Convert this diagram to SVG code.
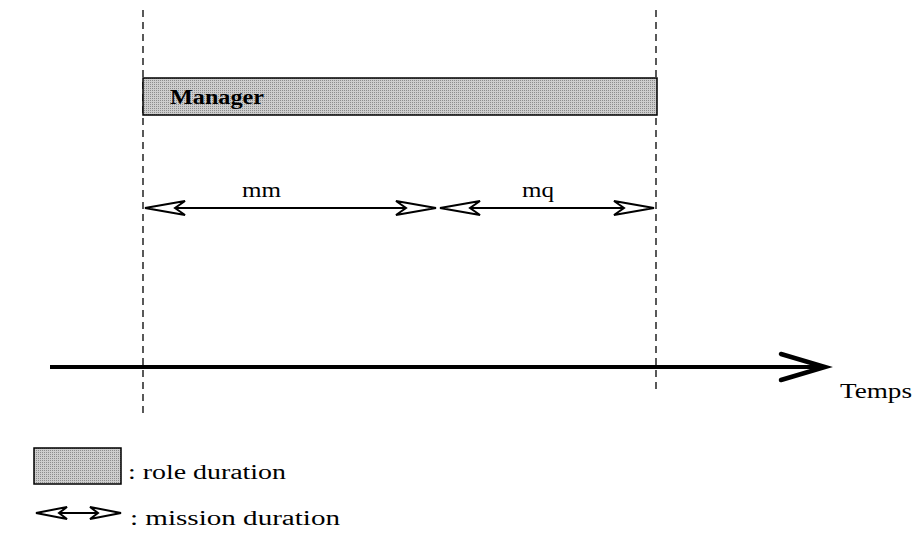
<svg xmlns="http://www.w3.org/2000/svg" width="917" height="535" viewBox="0 0 917 535">
<style>
.t{font-family:"Liberation Serif","Times New Roman",serif;font-size:20px;fill:#000}
.dash{stroke:#000;stroke-width:1.3;stroke-dasharray:7 5;fill:none}
.role{fill:url(#dots);stroke:#000;stroke-width:1.5}
.ml{stroke:#000;stroke-width:1.8;fill:none}
.head{fill:#fff;stroke:#000;stroke-width:2;stroke-linejoin:miter}
</style>
<defs>
<pattern id="dots" width="2" height="2" patternUnits="userSpaceOnUse">
<rect width="2" height="2" fill="#cdcdcd"/>
<rect width="1" height="1" fill="#8c8c8c"/>
</pattern>
<marker id="dart" viewBox="-42 -9 44 18" markerWidth="44" markerHeight="18" refX="0" refY="0" orient="auto-start-reverse" markerUnits="userSpaceOnUse">
<polygon points="0,0 -40,-7 -30,0 -40,7" class="head"/>
</marker>
<marker id="dartS" viewBox="-33 -8 35 16" markerWidth="35" markerHeight="16" refX="0" refY="0" orient="auto-start-reverse" markerUnits="userSpaceOnUse">
<polygon points="0,0 -31,-6 -23,0 -31,6" class="head"/>
</marker>
</defs>
<g id="guides">
<line class="dash" x1="143" y1="10" x2="143" y2="418"/>
<line class="dash" x1="656" y1="10" x2="656" y2="392"/>
</g>
<g id="role-manager">
<rect class="role" x="143" y="78" width="514" height="37"/>
<text class="t" x="170" y="104" font-weight="bold" textLength="94" lengthAdjust="spacingAndGlyphs">Manager</text>
</g>
<g id="connectors">
<line class="ml" x1="145" y1="208" x2="436" y2="208" marker-start="url(#dart)" marker-end="url(#dart)"/>
<line class="ml" x1="440" y1="208" x2="654" y2="208" marker-start="url(#dart)" marker-end="url(#dart)"/>
<line x1="50" y1="367" x2="822" y2="367" stroke="#000" stroke-width="4"/>
<polyline points="781,354 825,367 781,380" fill="none" stroke="#000" stroke-width="4.5" stroke-linecap="round" stroke-linejoin="miter"/>
<line class="ml" x1="36" y1="513" x2="121" y2="513" marker-start="url(#dartS)" marker-end="url(#dartS)"/>
</g>
<g id="labels">
<text class="t" x="242" y="197" textLength="39" lengthAdjust="spacingAndGlyphs">mm</text>
<text class="t" x="522" y="197" textLength="32" lengthAdjust="spacingAndGlyphs">mq</text>
<text class="t" x="840" y="398" textLength="72" lengthAdjust="spacingAndGlyphs">Temps</text>
</g>
<g id="legend">
<rect class="role" x="34" y="448" width="87" height="36" stroke-width="1.2"/>
<text class="t" x="128" y="479" textLength="158" lengthAdjust="spacingAndGlyphs">: role duration</text>
<text class="t" x="130" y="525" textLength="210" lengthAdjust="spacingAndGlyphs">: mission duration</text>
</g>
</svg>
